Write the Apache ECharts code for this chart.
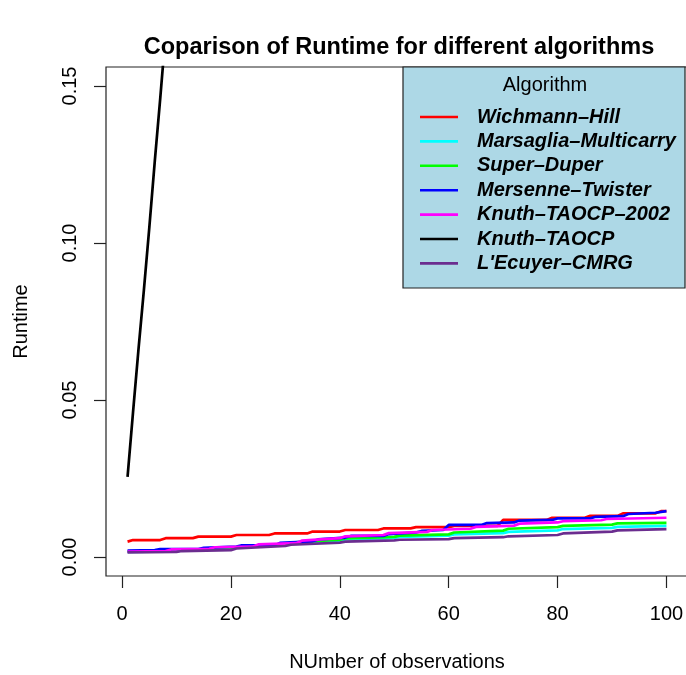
<!DOCTYPE html>
<html>
<head>
<meta charset="utf-8">
<script src="https://cdn.jsdelivr.net/npm/echarts@6/dist/echarts.min.js"></script>
<style>
  html, body { margin: 0; padding: 0; background: #fff; }
  #chart { width: 686px; height: 675px; }
</style>
</head>
<body>
<div id="chart"></div>
<script>
// legend order = drawing order
const algorithms = ['Wichmann–Hill', 'Marsaglia–Multicarry', 'Super–Duper', 'Mersenne–Twister', 'Knuth–TAOCP–2002', 'Knuth–TAOCP', "L'Ecuyer–CMRG"]
const lineColors = ['#ff0000', '#00ffff', '#00ff00', '#0000ff', '#ff00ff', '#000000', '#6b2d8f']

const xTicks = [0, 20, 40, 60, 80, 100]
const yTicks = [0, 0.05, 0.1, 0.15]

// [observations, runtime] read at the corners of each staircase
const wichmannHill = [[1, .0049], [2, .0054], [7, .0054], [8, .0060], [13, .0060], [14, .0065], [20, .0065], [21, .0070], [27, .0070], [28, .0075], [34, .0075], [35, .0081], [40, .0081], [41, .0086], [47, .0086], [48, .0091], [53, .0091], [54, .0095], [60, .0095], [61, .0099], [69, .0099], [70, .0118], [78, .0118], [79, .0125], [85, .0125], [86, .0131], [91, .0131], [92, .0139], [98, .0139], [99, .0146], [100, .0146]]
const marsaglia = [[1, .0016], [10, .0018], [11, .0022], [20, .0026], [21, .0031], [30, .0039], [31, .0044], [40, .0052], [41, .0056], [50, .0061], [51, .0064], [60, .0068], [61, .0072], [70, .0076], [71, .0080], [80, .0085], [81, .0089], [90, .0093], [91, .0096], [100, .0099]]
const superDuper = [[1, .0017], [10, .0019], [11, .0023], [20, .0026], [21, .0031], [30, .0040], [31, .0046], [40, .0055], [41, .0059], [50, .0064], [51, .0068], [60, .0072], [61, .0078], [70, .0084], [71, .0090], [80, .0095], [81, .0099], [90, .0103], [91, .0107], [100, .0109]]
const mersenne = [[1, .0020], [6, .0022], [7, .0025], [14, .0025], [15, .0029], [21, .0033], [22, .0037], [28, .0037], [29, .0045], [35, .0050], [36, .0056], [41, .0062], [42, .0067], [48, .0067], [49, .0073], [54, .0078], [55, .0083], [59, .0086], [60, .0102], [66, .0102], [67, .0108], [72, .0110], [73, .0116], [79, .0118], [80, .0123], [86, .0123], [87, .0128], [92, .0130], [93, .0137], [98, .0141], [100, .0146]]
const knuth2002 = [[1, .0017], [8, .0019], [9, .0024], [16, .0026], [17, .0031], [24, .0033], [25, .0040], [32, .0044], [33, .0052], [40, .0060], [41, .0066], [48, .0070], [49, .0076], [56, .0080], [57, .0086], [64, .0090], [65, .0096], [72, .0100], [73, .0106], [80, .0110], [81, .0114], [88, .0117], [89, .0121], [100, .0125]]
const knuthTaocp = [[1, .0255], [2, .046], [3, .066], [4, .085], [5, .105], [6, .126], [7, .146], [8, .167], [9, .188]]
const lecuyer = [[1, .0015], [10, .0016], [11, .0019], [20, .0022], [21, .0027], [30, .0035], [31, .0039], [40, .0046], [41, .0049], [50, .0053], [51, .0055], [60, .0057], [61, .0060], [70, .0063], [71, .0066], [80, .0070], [81, .0075], [90, .0081], [91, .0085], [100, .0089]]

const seriesData = [wichmannHill, marsaglia, superDuper, mersenne, knuth2002, knuthTaocp, lecuyer]

const font = 'Liberation Sans, Arial, Helvetica, sans-serif'
const chart = echarts.init(document.getElementById('chart'), null, { renderer: 'canvas' })

chart.setOption({
  animation: false,
  title: {
    text: 'Coparison of Runtime for different algorithms',
    left: 399,
    top: 36,
    textAlign: 'center',
    padding: 0,
    textStyle: { fontFamily: font, fontSize: 23.5, fontWeight: 'bold', color: '#000' }
  },
  grid: {
    left: 106,
    top: 67,
    right: -2,
    bottom: 99,
    outerBoundsMode: 'none',
    containLabel: false,
    show: true,
    borderColor: '#222',
    borderWidth: 1.2,
    backgroundColor: 'transparent'
  },
  xAxis: {
    type: 'value',
    min: -2.96,
    max: 103.96,
    name: 'NUmber of observations',
    nameLocation: 'middle',
    nameGap: 76,
    nameTextStyle: { fontFamily: font, fontSize: 20, color: '#000' },
    axisLine: { show: false, onZero: false },
    splitLine: { show: false },
    axisTick: { show: true, length: 12, lineStyle: { color: '#222', width: 1.2 }, customValues: xTicks },
    axisLabel: { fontFamily: font, fontSize: 20, color: '#000', margin: 28, customValues: xTicks }
  },
  yAxis: {
    type: 'value',
    min: -0.00605,
    max: 0.15605,
    name: 'Runtime',
    nameLocation: 'middle',
    nameGap: 75,
    nameRotate: 90,
    nameTextStyle: { fontFamily: font, fontSize: 20, color: '#000' },
    axisLine: { show: false, onZero: false },
    splitLine: { show: false },
    axisTick: { show: true, length: 12, lineStyle: { color: '#222', width: 1.2 }, customValues: yTicks },
    axisLabel: {
      fontFamily: font,
      fontSize: 20,
      color: '#000',
      margin: 26,
      rotate: 90,
      customValues: yTicks,
      formatter: v => v.toFixed(2)
    }
  },
  legend: {
    data: algorithms,
    orient: 'vertical',
    left: 420,
    top: 104.8,
    z: 10,
    padding: 0,
    itemGap: 0,
    icon: 'rect',
    itemWidth: 38,
    itemHeight: 2.6,
    selectedMode: false,
    textStyle: {
      fontFamily: font,
      fontSize: 20,
      fontStyle: 'italic',
      fontWeight: 'bold',
      color: '#000',
      lineHeight: 24.4,
      padding: [0, 0, 0, 14]
    }
  },
  graphic: [
    {
      type: 'rect',
      z: 5,
      shape: { x: 403, y: 67, width: 282, height: 221 },
      style: { fill: '#add8e6', stroke: '#222', lineWidth: 1.2 }
    },
    {
      type: 'text',
      z: 6,
      x: 545,
      y: 85,
      style: {
        text: 'Algorithm',
        fontFamily: font,
        fontSize: 20,
        fill: '#000',
        textAlign: 'center',
        textVerticalAlign: 'middle'
      }
    }
  ],
  series: algorithms.map((name, i) => ({
    name: name,
    type: 'line',
    data: seriesData[i],
    showSymbol: false,
    symbol: 'none',
    clip: true,
    color: lineColors[i],
    lineStyle: { width: 2.7, color: lineColors[i] },
    z: 2 + i * 0.01
  }))
})
</script>
</body>
</html>
